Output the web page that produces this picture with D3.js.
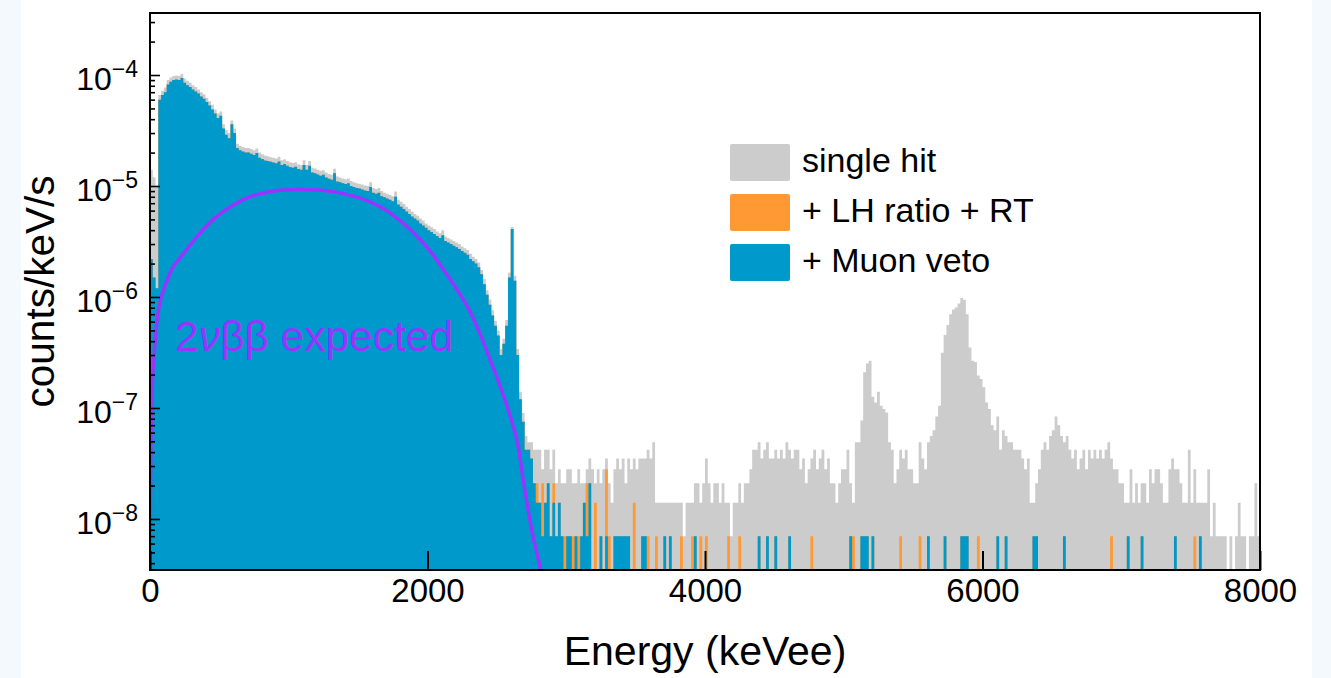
<!DOCTYPE html>
<html>
<head>
<meta charset="utf-8">
<script src="https://cdn.jsdelivr.net/npm/d3@7"></script>
<style>
  html, body { margin: 0; padding: 0; background: #f4f9fd; }
  svg { display: block; }
  text { font-family: "Liberation Sans", Arial, Helvetica, sans-serif; }
</style>
</head>
<body>
<svg id="chart" width="1331" height="678"></svg>
<script>
// ---- data -------------------------------------------------------------
const binWidth = 20;          // keV
const eMax = 8000;
const highStart = 2700;       // above this the spectra are read as integer counts
const countUnit = 7e-9;       // counts/keV/s for one count in a bin

// 0 - 2700 keV, units of 1e-6 counts/keV/s (20 keV bins)
const blueLow = [
  2.2, 1.5, 1.2, 60, 66, 70, 82, 87, 90, 91,
  90, 94, 85, 81, 78, 74, 71, 68, 64, 61,
  57, 53, 49, 45, 41, 43, 33, 29, 27, 36,
  30, 22, 21, 20.5, 20, 20, 19.5, 19, 19.8, 18,
  17.5, 17, 16.8, 16.5, 16.3, 16, 16.6, 15.5, 15.8, 15.2,
  14.8, 14.6, 14.9, 14.2, 14.0, 15.5, 14.0, 15.2, 13.2, 13.0,
  12.7, 12.4, 12.6, 11.9, 11.6, 11.4, 13.0, 11.0, 10.8, 10.6,
  10.4, 10.6, 10.0, 9.8, 9.6, 9.5, 9.3, 9.1, 9.0, 9.8,
  8.7, 8.5, 8.7, 8.1, 7.9, 7.7, 7.5, 7.3, 8.0, 6.8,
  6.5, 6.2, 5.9, 5.6, 5.3, 5.1, 4.9, 4.6, 4.4, 4.2,
  4.0, 3.85, 3.7, 3.55, 3.4, 3.6, 3.2, 3.1, 3.0, 2.9,
  2.8, 2.7, 2.6, 2.5, 2.4, 2.2, 2.1, 2.0, 1.85, 1.6,
  1.3, 1.05, 0.85, 0.68, 0.55, 0.45, 0.30, 0.38, 0.55, 1.5,
  4.1, 1.4, 0.3, 0.12, 0.075
];
const grayLow = [
  14, 12, 10, 66, 72, 77, 90, 95, 98, 99,
  98, 102, 93, 89, 85, 81, 78, 74, 70, 67,
  62, 58, 54, 49, 45, 47, 36, 32, 30, 39,
  33, 24, 23, 22.5, 22, 22, 21.5, 21, 21.8, 20,
  19.3, 18.8, 18.5, 18.2, 18, 17.7, 18.3, 17.1, 17.4, 16.8,
  16.4, 16.1, 16.4, 15.7, 15.5, 17.1, 15.5, 16.8, 14.6, 14.4,
  14.0, 13.7, 13.9, 13.2, 12.8, 12.6, 14.3, 12.2, 11.9, 11.7,
  11.5, 11.7, 11.1, 10.8, 10.6, 10.5, 10.3, 10.1, 10.0, 10.8,
  9.6, 9.4, 9.6, 9.0, 8.7, 8.5, 8.3, 8.1, 8.9, 7.5,
  7.2, 6.9, 6.5, 6.2, 5.9, 5.6, 5.4, 5.1, 4.9, 4.6,
  4.4, 4.25, 4.1, 3.9, 3.75, 4.0, 3.5, 3.4, 3.3, 3.2,
  3.1, 3.0, 2.85, 2.75, 2.65, 2.45, 2.3, 2.2, 2.05, 1.75,
  1.45, 1.15, 0.95, 0.76, 0.61, 0.5, 0.34, 0.42, 0.62, 1.65,
  4.3, 1.55, 0.34, 0.14, 0.09
];

// 2700 - 8000 keV, single hit counts per 20 keV bin
const grayHigh = [
  8, 7, 7, 6, 6, 6, 4, 6, 6, 4,
  6, 3, 4, 3, 3, 4, 4, 3, 3, 4,
  3, 3, 4, 5, 4, 3, 4, 3, 4, 5,
  3, 2, 4, 5, 4, 5, 3, 5, 4, 5,
  4, 5, 5, 5, 6, 5, 7, 2, 2, 2,
  2, 2, 2, 2, 2, 2, 2, 1, 2, 2,
  2, 3, 3, 2, 3, 5, 3, 2, 3, 3,
  2, 3, 2, 2, 1, 2, 2, 3, 2, 3,
  3, 4, 6, 6, 7, 5, 6, 7, 5, 5,
  6, 5, 6, 5, 7, 6, 5, 6, 6, 4,
  5, 3, 4, 5, 6, 4, 5, 6, 4, 5,
  3, 3, 2, 3, 4, 4, 6, 3, 2, 7,
  7, 11, 30, 36, 38, 18, 16, 20, 15, 14,
  13, 7, 6, 3, 4, 6, 5, 6, 4, 4,
  3, 3, 7, 5, 4, 7, 8, 9, 12, 15,
  45, 65, 80, 100, 110, 115, 125, 140, 135, 100,
  50, 38, 37, 28, 26, 22, 16, 14, 10, 9,
  12, 6, 9, 8, 7, 7, 6, 6, 6, 5,
  4, 5, 2, 2, 3, 4, 6, 7, 6, 8,
  9, 12, 10, 8, 7, 8, 6, 5, 6, 4,
  5, 6, 4, 6, 5, 6, 5, 6, 5, 6,
  7, 5, 4, 4, 3, 3, 2, 2, 4, 2,
  3, 2, 3, 3, 2, 4, 3, 4, 4, 3,
  2, 2, 4, 5, 4, 4, 3, 2, 2, 6,
  2, 4, 2, 2, 2, 2, 4, 1, 2, 1,
  1, 1, 1, 0, 1, 0, 1, 2, 1, 1,
  0, 1, 1, 3, 1
];

// [bin start keV, counts] after LH ratio + RT cut
const orangeHits = [
  [2700, 6], [2720, 6], [2740, 5], [2760, 3], [2780, 3], [2800, 2], [2820, 3], [2840, 2],
  [2860, 3], [2880, 1], [2900, 3], [2920, 1], [2940, 2], [2960, 1], [2980, 1], [3000, 1],
  [3020, 1], [3040, 1], [3060, 1], [3080, 1], [3100, 1], [3120, 2], [3140, 3], [3160, 3],
  [3200, 2], [3240, 1], [3280, 4], [3300, 1], [3340, 1], [3360, 1], [3380, 1], [3400, 1],
  [3420, 1], [3440, 1], [3480, 2], [3540, 1], [3560, 1], [3580, 1], [3640, 1], [3700, 1],
  [3740, 1], [3820, 1], [3900, 1], [3920, 1], [3960, 1], [4000, 1], [4160, 1], [4240, 1],
  [4380, 1], [4440, 1], [4500, 1], [4600, 1], [4760, 1], [5040, 1], [5060, 1], [5120, 1],
  [5140, 1], [5160, 1], [5200, 1], [5400, 1], [5540, 1], [5600, 1], [5720, 1], [5840, 1],
  [5860, 1], [5880, 1], [5960, 1], [6100, 1], [6160, 1], [6360, 1], [6380, 1], [6580, 1],
  [6920, 1], [7040, 1], [7140, 1], [7380, 1], [7520, 1], [7560, 1]
];
// [bin start keV, counts] after muon veto
const blueHits = [
  [2700, 6], [2720, 6], [2740, 5], [2760, 3], [2780, 2], [2800, 2], [2820, 1], [2840, 2],
  [2860, 3], [2880, 1], [2900, 2], [2920, 1], [2940, 2], [2960, 1], [3000, 1], [3020, 1],
  [3060, 1], [3100, 1], [3120, 2], [3140, 1], [3160, 3], [3240, 1], [3280, 1], [3340, 1],
  [3360, 1], [3380, 1], [3400, 1], [3420, 1], [3440, 1], [3540, 1], [3560, 1], [3700, 1],
  [3740, 1], [3920, 1], [4380, 1], [4440, 1], [4500, 1], [4600, 1], [5040, 1], [5120, 1],
  [5140, 1], [5160, 1], [5200, 1], [5600, 1], [5720, 1], [5840, 1], [5860, 1], [5880, 1],
  [6100, 1], [6160, 1], [6360, 1], [6380, 1], [6580, 1], [7040, 1], [7140, 1], [7380, 1],
  [7560, 1]
];

// 2vbb expectation [keV, counts/keV/s]
const curve2nu = [
  [0.5, 3.0e-9], [3, 1.5e-8], [7, 5e-8], [12, 1.0e-7], [19, 1.9e-7], [29, 2.9e-7],
  [48, 5.8e-7], [72, 9.0e-7], [108, 1.25e-6], [160, 1.8e-6], [216, 2.25e-6], [276, 2.8e-6],
  [360, 3.75e-6], [480, 5.3e-6], [600, 6.75e-6], [721, 8.0e-6], [841, 8.8e-6], [960, 9.2e-6],
  [1081, 9.3e-6], [1200, 9.2e-6], [1321, 8.9e-6], [1465, 8.1e-6], [1586, 7.2e-6], [1706, 6.0e-6],
  [1826, 4.6e-6], [1900, 3.8e-6], [2018, 2.6e-6], [2162, 1.45e-6], [2306, 7.4e-7], [2378, 4.7e-7],
  [2450, 2.75e-7], [2523, 1.58e-7], [2595, 8.5e-8], [2655, 4.4e-8], [2691, 2.2e-8], [2751, 8.0e-9],
  [2811, 3.7e-9], [2840, 2.5e-9]
];

const xTicks = [0, 2000, 4000, 6000, 8000];
const yDecades = [-8, -7, -6, -5, -4];
const legendItems = ["single hit", "+ LH ratio + RT", "+ Muon veto"];

// ---- setup ------------------------------------------------------------
const colGray = "#cccccc", colOrange = "#ff9933", colBlue = "#0099cc", colPurple = "#9933ff";
const yMin = 3.47e-9, yMax = 3.62e-4;
const plot = { left: 150, right: 1260, top: 13, bottom: 570 };

const x = d3.scaleLinear().domain([0, eMax]).range([plot.left, plot.right]);
const y = d3.scaleLog().domain([yMin, yMax]).range([plot.bottom, plot.top]);

const nBins = eMax / binWidth;
const nLow = highStart / binWidth;
function dense(low, hits) {
  const arr = new Array(nBins).fill(0);
  low.forEach((v, i) => arr[i] = v * 1e-6);
  hits.forEach(h => arr[Math.round(h[0] / binWidth)] = h[1] * countUnit);
  return arr;
}
const gray = new Array(nBins).fill(0);
grayLow.forEach((v, i) => gray[i] = v * 1e-6);
grayHigh.forEach((c, i) => gray[nLow + i] = c * countUnit);
const orange = dense(blueLow, orangeHits);
const blue = dense(blueLow, blueHits);

const svg = d3.select("#chart");
svg.append("rect").attr("x", 21).attr("y", 0).attr("width", 1291).attr("height", 678).attr("fill", "#ffffff");

svg.append("clipPath").attr("id", "plotclip").append("rect")
  .attr("x", plot.left).attr("y", plot.top)
  .attr("width", plot.right - plot.left).attr("height", plot.bottom - plot.top);

const area = d3.area().curve(d3.curveStepAfter)
  .x(d => x(d[0]))
  .y0(plot.bottom)
  .y1(d => d[1] > 0 ? y(Math.max(d[1], yMin)) : plot.bottom);

function histPts(vals) {
  const pts = vals.map((v, i) => [i * binWidth, v]);
  pts.push([eMax, vals[vals.length - 1]]);
  return pts;
}

const hist = svg.append("g").attr("clip-path", "url(#plotclip)");
hist.append("path").attr("d", area(histPts(gray))).attr("fill", colGray);
hist.append("path").attr("d", area(histPts(orange))).attr("fill", colOrange);
hist.append("path").attr("d", area(histPts(blue))).attr("fill", colBlue);

hist.append("path")
  .attr("d", d3.line().curve(d3.curveMonotoneX).x(d => x(d[0])).y(d => y(d[1]))(curve2nu))
  .attr("fill", "none").attr("stroke", colPurple).attr("stroke-width", 3.5);

// ---- axes -------------------------------------------------------------
const minorVals = [];
for (let d = -9; d <= -4; d++) {
  for (let m = 2; m <= 9; m++) {
    const v = m * Math.pow(10, d);
    if (v > yMin && v < yMax) minorVals.push(v);
  }
}
const majorVals = yDecades.map(d => Math.pow(10, d));

const yAxisMajor = svg.append("g").attr("transform", `translate(${plot.left},0)`)
  .call(d3.axisLeft(y).tickValues(majorVals).tickSize(-10).tickFormat(""));
const yAxisMinor = svg.append("g").attr("transform", `translate(${plot.left},0)`)
  .call(d3.axisLeft(y).tickValues(minorVals).tickSize(-5).tickFormat(""));
[yAxisMajor, yAxisMinor].forEach(a => {
  a.select(".domain").remove();
  a.selectAll("line").attr("stroke", "#000").attr("stroke-width", 1.6);
});

const xAxis = svg.append("g").attr("transform", `translate(0,${plot.bottom})`)
  .call(d3.axisBottom(x).tickValues(xTicks).tickSize(-19).tickPadding(9).tickFormat(d3.format("d")));
xAxis.select(".domain").remove();
xAxis.selectAll("line").attr("stroke", "#000").attr("stroke-width", 2);
xAxis.selectAll("text").attr("font-size", 33).attr("fill", "#000")
  .style("font-family", '"Liberation Sans", Arial, sans-serif');

// y tick labels 10^n
yDecades.forEach(d => {
  const t = svg.append("text")
    .attr("x", 138).attr("y", y(Math.pow(10, d)) + 15)
    .attr("text-anchor", "end").attr("font-size", 32).attr("fill", "#000");
  t.append("tspan").text("10");
  t.append("tspan").attr("dy", -13).attr("font-size", 23).text("\u2212" + Math.abs(d));
});

// frame
svg.append("rect")
  .attr("x", plot.left).attr("y", plot.top)
  .attr("width", plot.right - plot.left).attr("height", plot.bottom - plot.top)
  .attr("fill", "none").attr("stroke", "#000").attr("stroke-width", 2);

// axis titles
svg.append("text")
  .attr("x", (plot.left + plot.right) / 2).attr("y", 665)
  .attr("text-anchor", "middle").attr("font-size", 41).attr("fill", "#000")
  .text("Energy (keVee)");
svg.append("text")
  .attr("transform", `translate(54,${(plot.top + plot.bottom) / 2}) rotate(-90)`)
  .attr("text-anchor", "middle").attr("font-size", 40.5).attr("fill", "#000")
  .text("counts/keV/s");

// curve label
const lbl = svg.append("text").attr("x", 175).attr("y", 351)
  .attr("font-size", 42.5).attr("fill", colPurple);
lbl.append("tspan").text("2");
lbl.append("tspan").attr("font-style", "italic").text("\u03bd");
lbl.append("tspan").text("\u03b2\u03b2 expected");

// legend
const legendColors = [colGray, colOrange, colBlue];
const legend = svg.append("g");
legendItems.forEach((name, i) => {
  legend.append("rect").attr("x", 730).attr("y", 144 + 50 * i)
    .attr("width", 60).attr("height", 37).attr("rx", 2)
    .attr("fill", legendColors[i]);
  legend.append("text").attr("x", 802).attr("y", 172 + 50 * i)
    .attr("font-size", 34).attr("fill", "#000").text(name);
});
</script>
</body>
</html>
